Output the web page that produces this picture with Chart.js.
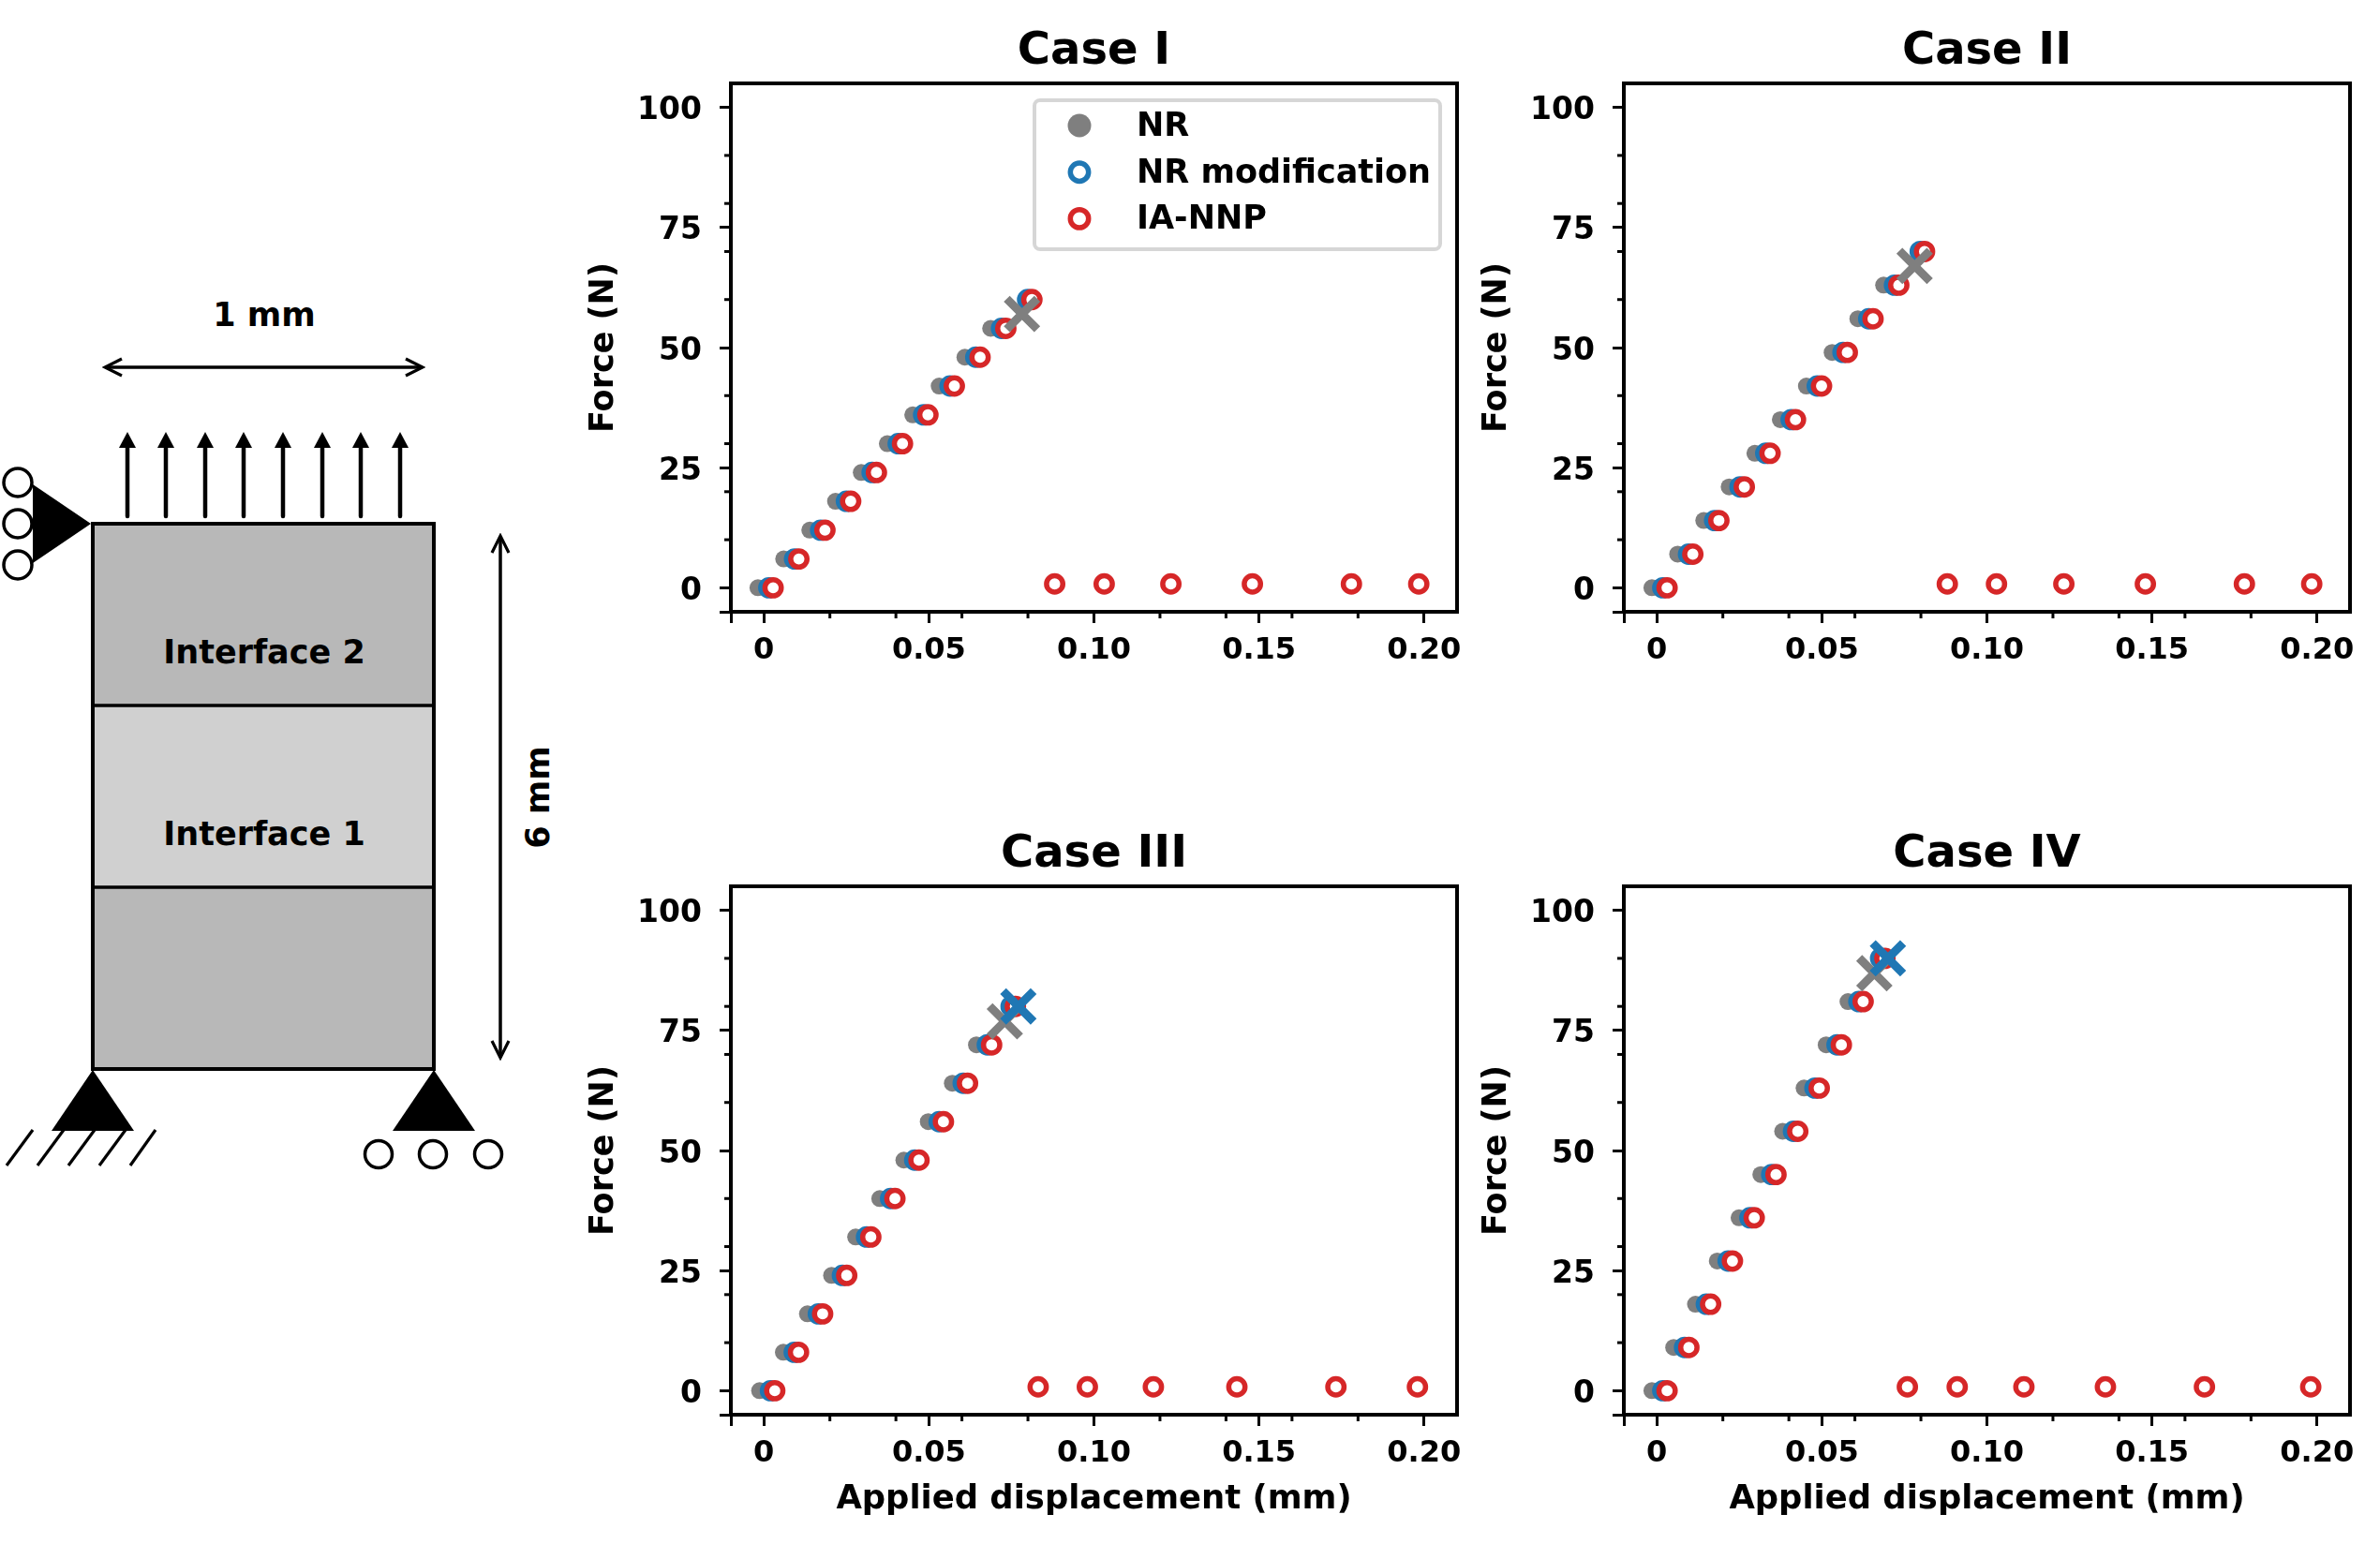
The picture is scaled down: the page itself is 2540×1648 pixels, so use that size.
<!DOCTYPE html>
<html>
<head>
<meta charset="utf-8">
<title>Force displacement cases</title>
<script src="https://cdn.jsdelivr.net/npm/chart.js@4/dist/chart.umd.js"></script>
<style>
  html, body { margin: 0; padding: 0; background: #fff; overflow: hidden; }
  body { width: 2540px; height: 1648px; position: relative; }
  canvas { position: absolute; }
  #specimen { position: absolute; left: 0; top: 0; }
  #specimen text { font-family: "DejaVu Sans"; font-weight: bold; font-size: 35px; fill: #000; }
</style>
</head>
<body>

<!-- specimen sketch on the left -->
<svg id="specimen" width="620" height="1648">
  <defs>
    <marker id="open" markerWidth="24" markerHeight="24" refX="21" refY="12" orient="auto-start-reverse" markerUnits="userSpaceOnUse">
      <path d="M3 3 L21 12 L3 21" fill="none" stroke="#000" stroke-width="3.2"/>
    </marker>
  </defs>

  <text x="282" y="348" text-anchor="middle">1 mm</text>
  <line x1="112" y1="392" x2="451" y2="392" stroke="#000" stroke-width="3.5" marker-start="url(#open)" marker-end="url(#open)"/>

  <g stroke="#000" stroke-width="4.5" fill="none" stroke-linecap="round">
    <line x1="136" y1="551" x2="136" y2="472"/><line x1="177" y1="551" x2="177" y2="472"/>
    <line x1="219" y1="551" x2="219" y2="472"/><line x1="260" y1="551" x2="260" y2="472"/>
    <line x1="302" y1="551" x2="302" y2="472"/><line x1="344" y1="551" x2="344" y2="472"/>
    <line x1="385" y1="551" x2="385" y2="472"/><line x1="427" y1="551" x2="427" y2="472"/>
  </g>
  <g fill="#000">
    <path d="M136 461 L145 478 L127 478 Z"/><path d="M177 461 L186 478 L168 478 Z"/>
    <path d="M219 461 L228 478 L210 478 Z"/><path d="M260 461 L269 478 L251 478 Z"/>
    <path d="M302 461 L311 478 L293 478 Z"/><path d="M344 461 L353 478 L335 478 Z"/>
    <path d="M385 461 L394 478 L376 478 Z"/><path d="M427 461 L436 478 L418 478 Z"/>
  </g>

  <rect x="99" y="559" width="364" height="194" fill="#b8b8b8"/>
  <rect x="99" y="753" width="364" height="194" fill="#d0d0d0"/>
  <rect x="99" y="947" width="364" height="194" fill="#b8b8b8"/>
  <rect x="99" y="559" width="364" height="582" fill="none" stroke="#000" stroke-width="4"/>
  <line x1="97" y1="753" x2="465" y2="753" stroke="#000" stroke-width="3.5"/>
  <line x1="97" y1="947" x2="465" y2="947" stroke="#000" stroke-width="3.5"/>
  <text x="282" y="708" text-anchor="middle">Interface 2</text>
  <text x="282" y="902" text-anchor="middle">Interface 1</text>

  <line x1="534" y1="572" x2="534" y2="1129" stroke="#000" stroke-width="3.5" marker-start="url(#open)" marker-end="url(#open)"/>
  <text transform="translate(586 851) rotate(-90)" text-anchor="middle">6 mm</text>

  <!-- left roller -->
  <path d="M97 559 L35 517 L35 601 Z" fill="#000"/>
  <g fill="#fff" stroke="#000" stroke-width="3.5">
    <circle cx="19" cy="515" r="15"/><circle cx="19" cy="559" r="15"/><circle cx="19" cy="603" r="15"/>
  </g>

  <!-- bottom pin and hatch -->
  <path d="M99 1142 L55 1207 L143 1207 Z" fill="#000"/>
  <g stroke="#000" stroke-width="3.2">
    <line x1="7" y1="1244" x2="35" y2="1206"/><line x1="40" y1="1244" x2="68" y2="1206"/>
    <line x1="73" y1="1244" x2="101" y2="1206"/><line x1="106" y1="1244" x2="134" y2="1206"/>
    <line x1="139" y1="1244" x2="166" y2="1206"/>
  </g>

  <!-- bottom roller -->
  <path d="M463 1142 L419 1207 L507 1207 Z" fill="#000"/>
  <g fill="#fff" stroke="#000" stroke-width="3.5">
    <circle cx="404" cy="1232" r="14.5"/><circle cx="462" cy="1232" r="14.5"/><circle cx="521" cy="1232" r="14.5"/>
  </g>
</svg>

<canvas id="caseI" width="951" height="791" style="left:624px;top:0"></canvas>
<canvas id="caseII" width="951" height="791" style="left:1577px;top:0"></canvas>
<canvas id="caseIII" width="951" height="791" style="left:624px;top:857px"></canvas>
<canvas id="caseIV" width="951" height="791" style="left:1577px;top:857px"></canvas>

<script>
// axis ticks, the edge ticks carry no label
const xTicks = [-0.01, 0, 0.05, 0.1, 0.15, 0.2];
const xTickLabels = ["", "0", "0.05", "0.10", "0.15", "0.20"];
const xMinorTicks = [0.02, 0.04, 0.06, 0.08, 0.12, 0.14, 0.16, 0.18];
const yTicks = [-5, 0, 25, 50, 75, 100];
const yTickLabels = ["", "0", "25", "50", "75", "100"];
const yMinorTicks = [10, 20, 30, 40, 60, 70, 80, 90];

const legendNames = ["NR", "NR modification", "IA-NNP"];

// Case I
const forceI = [0, 6, 12, 18, 24, 30, 36, 42, 48, 54, 60];
const nrDispI = [-0.0018, 0.006, 0.0139, 0.0217, 0.0295, 0.0374, 0.0451, 0.0531, 0.0609, 0.0687];
const modDispI = [0.0015, 0.0093, 0.0172, 0.025, 0.0328, 0.0407, 0.0484, 0.0564, 0.0642, 0.072, 0.0799];
const nnpDispI = [0.0028, 0.0106, 0.0185, 0.0263, 0.0341, 0.042, 0.0497, 0.0577, 0.0655, 0.0733, 0.0812];
const nnpTailDispI = [0.0881, 0.1031, 0.1233, 0.148, 0.178, 0.1984];
const nrFailI = [0.0782, 57];

// Case II
const forceII = [0, 7, 14, 21, 28, 35, 42, 49, 56, 63, 70];
const nrDispII = [-0.0015, 0.0063, 0.0142, 0.0219, 0.0297, 0.0374, 0.0453, 0.0531, 0.0609, 0.0687];
const modDispII = [0.0018, 0.0096, 0.0175, 0.0252, 0.033, 0.0407, 0.0486, 0.0564, 0.0642, 0.072, 0.0798];
const nnpDispII = [0.0031, 0.0109, 0.0188, 0.0265, 0.0343, 0.042, 0.0499, 0.0577, 0.0655, 0.0733, 0.0811];
const nnpTailDispII = [0.088, 0.1029, 0.1233, 0.148, 0.178, 0.1984];
const nrFailII = [0.0781, 67];

// Case III
const forceIII = [0, 8, 16, 24, 32, 40, 48, 56, 64, 72, 80];
const nrDispIII = [-0.0013, 0.0059, 0.0132, 0.0205, 0.0278, 0.0351, 0.0424, 0.0498, 0.0571, 0.0644];
const modDispIII = [0.002, 0.0092, 0.0165, 0.0238, 0.0311, 0.0384, 0.0457, 0.0531, 0.0604, 0.0677, 0.0749];
const nnpDispIII = [0.0033, 0.0105, 0.0178, 0.0251, 0.0324, 0.0397, 0.047, 0.0544, 0.0617, 0.069, 0.0762];
const nnpTailDispIII = [0.0831, 0.098, 0.118, 0.1433, 0.1733, 0.198];
const nrFailIII = [0.073, 76.9];
const modFailIII = [0.0771, 80];

// Case IV
const forceIV = [0, 9, 18, 27, 36, 45, 54, 63, 72, 81, 90];
const nrDispIV = [-0.0015, 0.0051, 0.0117, 0.0183, 0.0249, 0.0315, 0.0381, 0.0446, 0.0513, 0.0579];
const modDispIV = [0.0018, 0.0084, 0.015, 0.0216, 0.0282, 0.0348, 0.0414, 0.0479, 0.0546, 0.0612, 0.0678];
const nnpDispIV = [0.0031, 0.0097, 0.0163, 0.0229, 0.0295, 0.0361, 0.0427, 0.0492, 0.0559, 0.0625, 0.0691];
const nnpTailDispIV = [0.0759, 0.091, 0.1112, 0.1359, 0.1659, 0.1981];
const nrFailIV = [0.0659, 86.9];
const modFailIV = [0.07, 90];

// the broken IA-NNP runs sit just above zero force
const nnpTailForce = [0.8, 0.8, 0.8, 0.8, 0.8, 0.8];

const GRAY = "#7f7f7f";
const BLUE = "#1f77b4";
const RED = "#d62728";

Chart.defaults.font.family = '"DejaVu Sans"';
Chart.defaults.font.weight = "bold";
Chart.defaults.color = "#000";

function toPoints(xs, ys) {
  return xs.map((x, i) => ({ x: x, y: ys[i] }));
}

function ringSet(label, color, data, order) {
  return {
    label: label, data: data, order: order, showLine: false,
    pointStyle: "circle", pointRadius: 8.7, pointHoverRadius: 8.7,
    pointBorderWidth: 5.5, pointHoverBorderWidth: 5.5,
    pointBorderColor: color, pointBackgroundColor: "#fff"
  };
}

function failSet(label, color, point, order) {
  return {
    label: label, data: [{ x: point[0], y: point[1] }], order: order, showLine: false,
    pointStyle: "crossRot", pointRadius: 23, pointHoverRadius: 23,
    pointBorderWidth: 9, pointHoverBorderWidth: 9,
    pointBorderColor: color, pointBackgroundColor: color
  };
}

// frame round the plot plus the short minor ticks
const frameAndMinorTicks = {
  id: "frameAndMinorTicks",
  afterDraw(chart) {
    const ctx = chart.ctx;
    const area = chart.chartArea;
    ctx.save();
    ctx.strokeStyle = "#000";
    ctx.lineWidth = 3;
    xMinorTicks.forEach((v) => {
      const px = chart.scales.x.getPixelForValue(v);
      ctx.beginPath();
      ctx.moveTo(px, area.bottom);
      ctx.lineTo(px, area.bottom + 7);
      ctx.stroke();
    });
    yMinorTicks.forEach((v) => {
      const py = chart.scales.y.getPixelForValue(v);
      ctx.beginPath();
      ctx.moveTo(area.left, py);
      ctx.lineTo(area.left - 7, py);
      ctx.stroke();
    });
    ctx.lineWidth = 4;
    ctx.strokeRect(area.left, area.top, area.right - area.left, area.bottom - area.top);
    ctx.restore();
  }
};

// legend box, only Case I has it
const legendBox = {
  id: "legendBox",
  afterDatasetsDraw(chart) {
    const ctx = chart.ctx;
    const area = chart.chartArea;
    const left = area.left + 324;
    const top = area.top + 18;
    ctx.save();
    ctx.beginPath();
    ctx.roundRect(left, top, 433, 159, 6);
    ctx.fillStyle = "rgba(255,255,255,0.8)";
    ctx.fill();
    ctx.lineWidth = 4;
    ctx.strokeStyle = "#d6d6d6";
    ctx.stroke();

    ctx.font = 'bold 35px "DejaVu Sans"';
    ctx.textBaseline = "middle";
    const colors = [GRAY, BLUE, RED];
    legendNames.forEach((name, i) => {
      const y = top + 27 + i * 49.7;
      ctx.beginPath();
      if (i === 0) {
        ctx.arc(left + 48, y, 12.5, 0, Math.PI * 2);
        ctx.fillStyle = colors[i];
        ctx.fill();
      } else {
        ctx.arc(left + 48, y, 9.7, 0, Math.PI * 2);
        ctx.fillStyle = "#fff";
        ctx.fill();
        ctx.lineWidth = 5.5;
        ctx.strokeStyle = colors[i];
        ctx.stroke();
      }
      ctx.fillStyle = "#000";
      ctx.fillText(name, left + 109, y + 2);
    });
    ctx.restore();
  }
};

function makeCase(canvasId, title, force, nrDisp, modDisp, nnpDisp, nnpTailDisp, nrFail, modFail, showXTitle, extraPlugins) {
  const datasets = [
    {
      label: "NR", data: toPoints(nrDisp, force), order: 5, showLine: false,
      pointStyle: "circle", pointRadius: 9, pointHoverRadius: 9, pointBorderWidth: 0,
      pointBackgroundColor: GRAY
    },
    ringSet("NR modification", BLUE, toPoints(modDisp, force), 4),
    ringSet("IA-NNP", RED, toPoints(nnpDisp, force).concat(toPoints(nnpTailDisp, nnpTailForce)), 3),
    failSet("NR failure", GRAY, nrFail, 2)
  ];
  if (modFail) {
    datasets.push(failSet("NR modification failure", BLUE, modFail, 1));
  }

  new Chart(document.getElementById(canvasId), {
    type: "scatter",
    data: { datasets: datasets },
    plugins: [frameAndMinorTicks].concat(extraPlugins || []),
    options: {
      responsive: false,
      animation: false,
      // big cross markers would otherwise eat into the right margin
      layout: { autoPadding: false, padding: { right: 20 } },
      plugins: {
        legend: { display: false },
        tooltip: { enabled: false },
        title: {
          display: true,
          text: title,
          // centred over the plot, not over the whole canvas
          fullSize: false,
          font: { size: 48, weight: "bold" },
          padding: { top: 27, bottom: 4.4 }
        }
      },
      scales: {
        x: {
          type: "linear",
          min: -0.01,
          max: 0.21,
          afterBuildTicks: (scale) => { scale.ticks = xTicks.map((v) => ({ value: v })); },
          afterFit: (scale) => { scale.height = 138; },
          border: { display: false },
          grid: { drawOnChartArea: false, tickLength: 12, tickWidth: 3, tickColor: "#000" },
          ticks: {
            autoSkip: false, maxRotation: 0, minRotation: 0, padding: 10,
            font: { size: 32, weight: "bold" },
            callback: (value, index) => xTickLabels[index]
          },
          title: {
            display: showXTitle,
            text: "Applied displacement (mm)",
            font: { size: 35.4, weight: "bold" },
            padding: { top: 0, bottom: 26 }
          }
        },
        y: {
          type: "linear",
          min: -5,
          max: 105,
          afterBuildTicks: (scale) => { scale.ticks = yTicks.map((v) => ({ value: v })); },
          afterFit: (scale) => { scale.width = 156; },
          border: { display: false },
          grid: { drawOnChartArea: false, tickLength: 12, tickWidth: 3, tickColor: "#000" },
          ticks: {
            autoSkip: false, padding: 19, labelOffset: 4,
            font: { size: 33, weight: "bold" },
            callback: (value, index) => yTickLabels[index]
          },
          title: {
            display: true,
            text: "Force (N)",
            font: { size: 35, weight: "bold" },
            padding: 0
          }
        }
      }
    }
  });
}

makeCase("caseI", "Case I", forceI, nrDispI, modDispI, nnpDispI, nnpTailDispI, nrFailI, null, false, [legendBox]);
makeCase("caseII", "Case II", forceII, nrDispII, modDispII, nnpDispII, nnpTailDispII, nrFailII, null, false);
makeCase("caseIII", "Case III", forceIII, nrDispIII, modDispIII, nnpDispIII, nnpTailDispIII, nrFailIII, modFailIII, true);
makeCase("caseIV", "Case IV", forceIV, nrDispIV, modDispIV, nnpDispIV, nnpTailDispIV, nrFailIV, modFailIV, true);
</script>
</body>
</html>
